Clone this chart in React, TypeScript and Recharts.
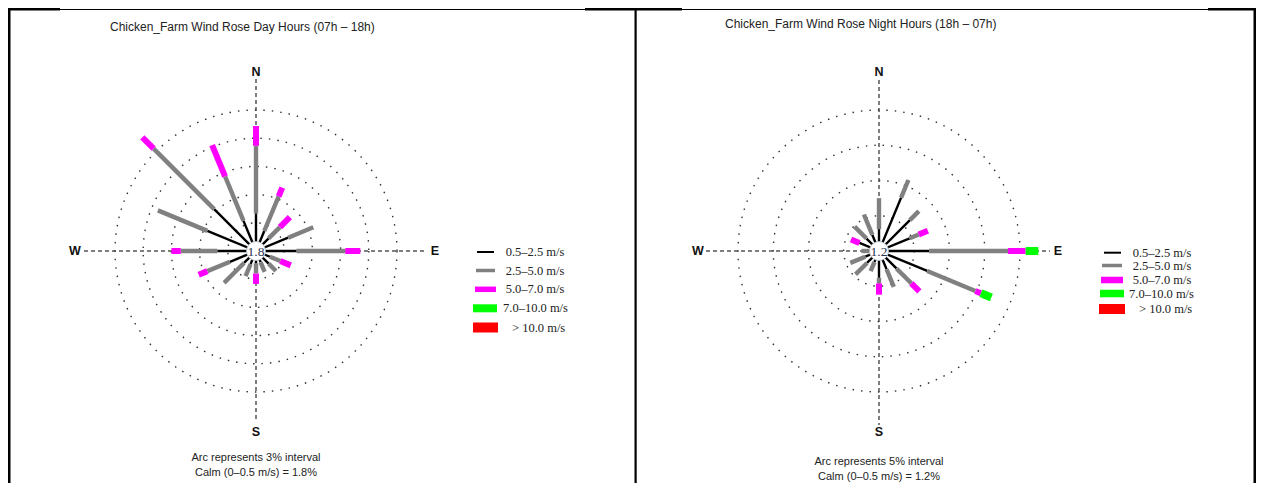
import React from 'react';
import {
  RadialBarChart,
  RadialBar,
  PolarAngleAxis,
  PolarRadiusAxis,
  PolarGrid,
} from 'recharts';

// Compass sectors, clockwise from north
const directions = [
  'N', 'NNE', 'NE', 'ENE', 'E', 'ESE', 'SE', 'SSE',
  'S', 'SSW', 'SW', 'WSW', 'W', 'WNW', 'NW', 'NNW',
];

// Wind speed classes
const speedClasses = ['0.5\u20132.5 m/s', '2.5\u20135.0 m/s', '5.0\u20137.0 m/s', '7.0\u201310.0 m/s', '> 10.0 m/s'];
const speedKeys = ['s1', 's2', 's3', 's4', 's5'];
const speedColors = ['#000000', '#808080', '#ff00ff', '#00ff00', '#ff0000'];

// Day hours (07h - 18h): frequency (%) per direction and speed class
const dayCalm = 1.8;
const dayRings = [3, 6, 9, 12, 15];
const day05to25 = [4.0, 2.3, 1.9, 3.7, 4.3, 1.6, 1.9, 1.3, 1.3, 1.5, 1.8, 3.0, 4.1, 5.6, 6.3, 3.5];
const day25to50 = [7.2, 4.0, 1.7, 2.9, 5.2, 1.2, 1.1, 1.1, 1.1, 1.4, 3.0, 2.6, 3.9, 5.7, 9.1, 5.1];
const day50to70 = [2.1, 1.0, 1.5, 0, 1.6, 1.2, 0, 0, 1.1, 0, 0, 1.0, 1.0, 0, 1.7, 3.6];
const day70to100 = [0, 0, 0, 0, 0, 0, 0, 0, 0, 0, 0, 0, 0, 0, 0, 0];
const dayAbove100 = [0, 0, 0, 0, 0, 0, 0, 0, 0, 0, 0, 0, 0, 0, 0, 0];

// Night hours (18h - 07h)
const nightCalm = 1.2;
const nightRings = [5, 10, 15, 20];
const night05to25 = [3.1, 8.2, 6.2, 4.7, 7.1, 7.4, 3.5, 2.8, 3.8, 1.7, 2.4, 2.1, 1.4, 3.0, 2.5, 2.5];
const night25to50 = [4.4, 2.7, 1.8, 1.4, 11.2, 7.4, 3.0, 2.7, 0.8, 1.4, 2.3, 2.3, 1.1, 0, 2.4, 3.1];
const night50to70 = [0, 0, 0, 1.4, 2.5, 0.85, 1.6, 0, 1.6, 0, 0, 0, 0, 1.3, 0, 0];
const night70to100 = [0, 0, 0, 0, 1.8, 1.6, 0, 0, 0, 0, 0, 0, 0, 0, 0, 0];
const nightAbove100 = [0, 0, 0, 0, 0, 0, 0, 0, 0, 0, 0, 0, 0, 0, 0, 0];

const SANS = '"Liberation Sans", Arial, Helvetica, sans-serif';
const SERIF = '"Liberation Serif", "Times New Roman", serif';

const spokeWidths = [2.4, 4.4, 6, 8, 10];

function buildRows(series: number[][]) {
  return directions.map((dir, i) => {
    const row: Record<string, number | string> = { dir };
    speedKeys.forEach((k, j) => {
      row[k] = series[j][i];
    });
    return row;
  });
}

const dayRows = buildRows([day05to25, day25to50, day50to70, day70to100, dayAbove100]);
const nightRows = buildRows([night05to25, night25to50, night50to70, night70to100, nightAbove100]);

// A straight spoke segment along the middle of the sector the bar occupies
function Spoke(props: any) {
  const { cx, cy, innerRadius, outerRadius, startAngle, endAngle, color, w } = props;
  if (!(outerRadius > innerRadius + 0.01)) return <g />;
  const mid = (((startAngle + endAngle) / 2) * Math.PI) / 180;
  const c = Math.cos(-mid);
  const s = Math.sin(-mid);
  return (
    <line
      x1={cx + innerRadius * c}
      y1={cy + innerRadius * s}
      x2={cx + outerRadius * c}
      y2={cy + outerRadius * s}
      stroke={color}
      strokeWidth={w}
    />
  );
}

// Radius of the outermost arc; the radial axis runs 20% past it so long spokes fit
const R = 141;
const OVERSHOOT = 1.2;
const HALF = 360 / directions.length / 2;

function Rose(props: { rows: any[]; cx: number; cy: number; rings: number[]; width: number; height: number }) {
  const { rows, cx, cy, rings, width, height } = props;
  const maxPct = rings[rings.length - 1] * OVERSHOOT;
  const outer = R * OVERSHOOT;
  return (
    <RadialBarChart
      width={width}
      height={height}
      data={rows}
      layout="centric"
      cx={cx}
      cy={cy}
      innerRadius={0}
      outerRadius={outer}
      startAngle={90 - HALF}
      endAngle={90 - HALF - 360}
      margin={{ top: 0, right: 0, bottom: 0, left: 0 }}
    >
      <PolarGrid
        gridType="circle"
        radialLines={false}
        polarRadius={rings.map((p) => (p / maxPct) * outer)}
        stroke="#333"
        strokeWidth={1.4}
        strokeDasharray="1.5 7"
      />
      <PolarAngleAxis type="category" dataKey="dir" tick={false} axisLine={false} tickLine={false} />
      <PolarRadiusAxis type="number" domain={[0, maxPct]} tick={false} axisLine={false} tickLine={false} />
      {speedKeys.map((k, j) => (
        <RadialBar
          key={k}
          dataKey={k}
          stackId="speed"
          fill={speedColors[j]}
          isAnimationActive={false}
          shape={(p: any) => <Spoke {...p} color={speedColors[j]} w={spokeWidths[j]} />}
        />
      ))}
    </RadialBarChart>
  );
}

type PanelText = {
  cx: number;
  cy: number;
  title: string;
  titleX: number;
  titleY: number;
  hExt: [number, number];
  vExt: [number, number];
  arcText: string;
  calmText: string;
  bottomY: [number, number];
  legendRows: number[];
  legendText: number[];
  legendSym: [number, number, number][];
};

function PanelDecor({ p }: { p: PanelText }) {
  const { cx, cy } = p;
  return (
    <g>
      <text x={p.titleX} y={p.titleY} fontFamily={SANS} fontSize={12} fill="#222" dominantBaseline="central">
        {p.title}
      </text>
      <line x1={cx - p.hExt[0]} y1={cy} x2={cx + p.hExt[1]} y2={cy} stroke="#555" strokeWidth={1.5} strokeDasharray="4 3" />
      <line x1={cx} y1={cy - p.vExt[0]} x2={cx} y2={cy + p.vExt[1]} stroke="#555" strokeWidth={1.5} strokeDasharray="4 3" />
      <g fontFamily={SANS} fontSize={12.5} fontWeight="bold" fill="#111" textAnchor="middle" dominantBaseline="central">
        <text x={cx} y={cy - 179}>N</text>
        <text x={cx} y={cy + 181}>S</text>
        <text x={cx - 181} y={cy}>W</text>
        <text x={cx + 179} y={cy}>E</text>
      </g>
      <g fontFamily={SANS} fontSize={11} fill="#222" textAnchor="middle" dominantBaseline="central">
        <text x={cx} y={p.bottomY[0]}>{p.arcText}</text>
        <text x={cx} y={p.bottomY[1]}>{p.calmText}</text>
      </g>
      {speedClasses.map((label, j) => {
        const [x0, x1, h] = p.legendSym[j];
        const y = p.legendRows[j];
        return (
          <g key={label}>
            <rect x={x0} y={y - h / 2} width={x1 - x0} height={h} fill={speedColors[j]} />
            <text x={p.legendText[j]} y={y} fontFamily={SERIF} fontSize={12.5} fill="#222" dominantBaseline="central">
              {label}
            </text>
          </g>
        );
      })}
    </g>
  );
}

const dayPanel: PanelText = {
  cx: 256,
  cy: 251,
  title: 'Chicken_Farm Wind Rose Day Hours (07h \u2013 18h)',
  titleX: 110,
  titleY: 27,
  hExt: [172, 170],
  vExt: [172, 170],
  arcText: 'Arc represents 3% interval',
  calmText: 'Calm (0\u20130.5 m/s) = 1.8%',
  bottomY: [457, 472],
  legendRows: [252, 270.5, 289.3, 308.3, 327.5],
  legendText: [505.7, 505.7, 505.7, 503, 512],
  legendSym: [
    [477, 494, 2],
    [476, 495, 3.5],
    [475, 496, 5.5],
    [473, 497, 8],
    [473, 498, 10],
  ],
};

const nightPanel: PanelText = {
  cx: 879,
  cy: 251,
  title: 'Chicken_Farm Wind Rose Night Hours (18h \u2013 07h)',
  titleX: 725,
  titleY: 24,
  hExt: [173, 171],
  vExt: [171, 174],
  arcText: 'Arc represents 5% interval',
  calmText: 'Calm (0\u20130.5 m/s) = 1.2%',
  bottomY: [461, 476],
  legendRows: [252.7, 265.5, 280, 293.5, 309],
  legendText: [1132.7, 1132.7, 1132.7, 1129, 1139],
  legendSym: [
    [1104, 1121, 2],
    [1102, 1122, 3.5],
    [1101, 1123, 6.5],
    [1100, 1124, 7.5],
    [1099, 1125, 10],
  ],
};

function CalmDisc({ cx, cy, value }: { cx: number; cy: number; value: number }) {
  return (
    <g>
      <circle cx={cx} cy={cy} r={9.5} fill="#fff" stroke="#b8c4d0" strokeWidth={0.8} />
      <text x={cx} y={cy + 0.5} fontFamily={SERIF} fontSize={13.5} fill="#2a3550" textAnchor="middle" dominantBaseline="central">
        {value.toFixed(1)}
      </text>
    </g>
  );
}

export default function App() {
  return (
    <div style={{ position: 'absolute', left: 0, top: 0, width: 1262, height: 483, background: '#fff', overflow: 'hidden' }}>
      <svg width={1262} height={483} style={{ position: 'absolute', left: 0, top: 0 }}>
        {/* table frame */}
        <line x1={8} y1={9.5} x2={1256} y2={9.5} stroke="#000" strokeWidth={1} />
        <rect x={8} y={8} width={52} height={2.5} fill="#000" />
        <rect x={585} y={8} width={97} height={2.5} fill="#000" />
        <rect x={1208} y={8} width={48} height={2.5} fill="#000" />
        <rect x={8} y={8} width={2.5} height={475} fill="#000" />
        <rect x={634.5} y={9} width={2.2} height={474} fill="#000" />
        <rect x={1253.5} y={8} width={2.5} height={475} fill="#000" />
        <PanelDecor p={dayPanel} />
        <PanelDecor p={nightPanel} />
      </svg>
      <div style={{ position: 'absolute', left: 0, top: 0 }}>
        <Rose rows={dayRows} cx={dayPanel.cx} cy={dayPanel.cy} rings={dayRings} width={631} height={483} />
      </div>
      <div style={{ position: 'absolute', left: 631, top: 0 }}>
        <Rose rows={nightRows} cx={nightPanel.cx - 631} cy={nightPanel.cy} rings={nightRings} width={631} height={483} />
      </div>
      <svg width={1262} height={483} style={{ position: 'absolute', left: 0, top: 0, pointerEvents: 'none' }}>
        <CalmDisc cx={dayPanel.cx} cy={dayPanel.cy} value={dayCalm} />
        <CalmDisc cx={nightPanel.cx} cy={nightPanel.cy} value={nightCalm} />
      </svg>
    </div>
  );
}
